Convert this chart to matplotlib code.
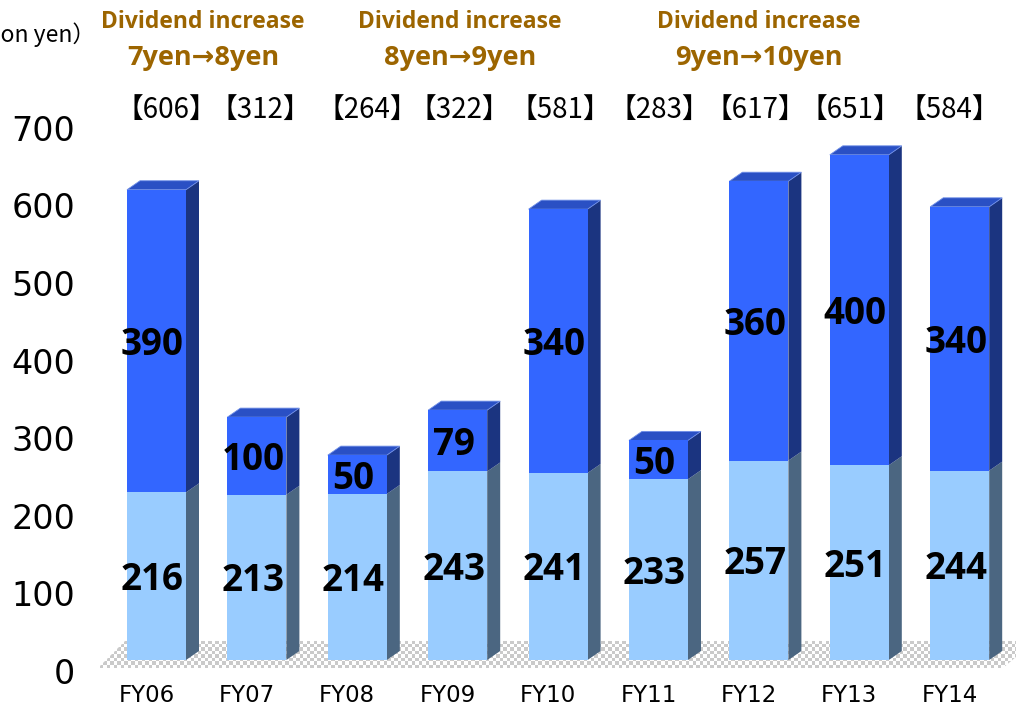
import numpy as np
import matplotlib
matplotlib.use("Agg")
import matplotlib.pyplot as plt
from matplotlib.patches import Polygon
from matplotlib.transforms import ScaledTranslation

# ---- data ----
categories = ["FY06", "FY07", "FY08", "FY09", "FY10", "FY11", "FY12", "FY13", "FY14"]
lower_vals = [216, 213, 214, 243, 241, 233, 257, 251, 244]
upper_vals = [390, 100, 50, 79, 340, 50, 360, 400, 340]
total_labels = ["606", "312", "264", "322", "581", "283", "617", "651", "584"]
ytick_vals = [0, 100, 200, 300, 400, 500, 600, 700]
headers = [("Dividend increase", "7yen\u21928yen"),
           ("Dividend increase", "8yen\u21929yen"),
           ("Dividend increase", "9yen\u219210yen")]
unit_label = "\uff08Billion yen\uff09"

# ---- layout / styles ----
W, H = 1016, 706
DPI = 100
header_x_px = [203, 460, 759]
total_dx_px = [9.5, 3, 10, 2, 2, 1, -4, -9, -10]   # offsets of bracket labels from bar centres
C_UP_FRONT = "#3366FF"
C_UP_TOP = "#2A50C4"
C_UP_SIDE = "#1B3480"
C_LO_FRONT = "#99CCFF"
C_LO_SIDE = "#4B6681"
C_HEAD = "#9C6500"
BOLD_FAM = ["Open Sans", "DejaVu Sans"]

fig = plt.figure(figsize=(W / DPI, H / DPI), dpi=DPI)
ax_left_px, ax_bottom_px = 88, 34
ax = fig.add_axes([ax_left_px / W, ax_bottom_px / H, 1 - ax_left_px / W, 1 - ax_bottom_px / H])

px_per_x = 100.4
px_per_y = 0.776
x0_px = 156.5
zero_above_axis = 12
ax.set_xlim((ax_left_px - x0_px) / px_per_x, (W - x0_px) / px_per_x)
ax.set_ylim(-zero_above_axis / px_per_y, (H - ax_bottom_px - zero_above_axis) / px_per_y)

for s in ax.spines.values():
    s.set_visible(False)

bw = 59 / px_per_x
ddx = 13 / px_per_x
ddy = 9 / px_per_y

x = np.arange(len(categories))

# ---- checkered floor ----
fl = [(-0.583, -10.3), (-0.314, 24.5), (8.75, 24.5), (8.43, -10.3)]
floor_poly = Polygon(fl, closed=True, facecolor="none", edgecolor="none")
ax.add_patch(floor_poly)
xmin, xmax = -0.6, 8.8
ymin, ymax = -10.3, 24.5
sq = 3.5
nx = int((xmax - xmin) * px_per_x / sq)
ny = int(round((ymax - ymin) * px_per_y / sq))
ii, jj = np.meshgrid(np.arange(nx), np.arange(ny))
checker = ((ii + jj) % 2).astype(float)
im = ax.imshow(checker, cmap=matplotlib.colors.ListedColormap(["#FFFFFF", "#CACACA"]),
               extent=(xmin, xmax, ymin, ymax), aspect="auto", interpolation="nearest",
               origin="lower", zorder=1)
im.set_clip_path(floor_poly)

# ---- bars ----
ax.bar(x, lower_vals, width=bw, color=C_LO_FRONT, zorder=3)
ax.bar(x, upper_vals, width=bw, bottom=lower_vals, color=C_UP_FRONT, zorder=3)

lab_off = ScaledTranslation(-4 / DPI, -4 / DPI, fig.dpi_scale_trans)
for i in range(len(categories)):
    xl = x[i] - bw / 2
    xr = x[i] + bw / 2
    lo = lower_vals[i]
    top = lower_vals[i] + upper_vals[i]
    ax.add_patch(Polygon([(xr, 0), (xr + ddx, ddy), (xr + ddx, lo + ddy), (xr, lo)],
                         closed=True, facecolor=C_LO_SIDE, edgecolor="none", zorder=2.5))
    ax.add_patch(Polygon([(xr, lo), (xr + ddx, lo + ddy), (xr + ddx, top + ddy), (xr, top)],
                         closed=True, facecolor=C_UP_SIDE, edgecolor="none", zorder=2.5))
    ax.add_patch(Polygon([(xl, top), (xl + ddx, top + ddy), (xr + ddx, top + ddy), (xr, top)],
                         closed=True, facecolor=C_UP_TOP, edgecolor="#6F8FE8", linewidth=0.6,
                         zorder=2.6))
    ax.text(x[i], lo / 2, str(lo), ha="center", va="center", fontsize=26.5,
            fontweight="bold", family=BOLD_FAM, color="black", zorder=5,
            transform=ax.transData + lab_off)
    ax.text(x[i], lo + upper_vals[i] / 2, str(upper_vals[i]), ha="center", va="center",
            fontsize=26.5, fontweight="bold", family=BOLD_FAM, color="black", zorder=5,
            transform=ax.transData + lab_off)
    ax.annotate("\u3010" + total_labels[i] + "\u3011", xy=(x[i], H - 110),
                xycoords=("data", "figure pixels"), xytext=(total_dx_px[i] * 0.72, 0),
                textcoords="offset points", ha="center", va="center",
                fontsize=20, family=["Noto Sans CJK JP", "DejaVu Sans"], color="black",
                annotation_clip=False)

# ---- axes ticks ----
ax.set_xticks(x)
ax.set_xticklabels(categories, fontsize=16.5, family="DejaVu Sans")
ax.tick_params(axis="x", length=0, pad=9)
xoff = ScaledTranslation(-10 / DPI, 0, fig.dpi_scale_trans)
for lab in ax.get_xticklabels():
    lab.set_transform(lab.get_transform() + xoff)
ax.set_yticks(ytick_vals)
ax.set_yticklabels([str(v) for v in ytick_vals], fontsize=24, family="DejaVu Sans")
ax.tick_params(axis="y", length=0, pad=9)
off = ScaledTranslation(0, -11 / DPI, fig.dpi_scale_trans)
for lab in ax.get_yticklabels():
    lab.set_transform(lab.get_transform() + off)

# ---- headers ----
for (l1, l2), hx in zip(headers, header_x_px):
    fig.text(hx / W, 1 - 22 / H, l1, ha="center", va="center", fontsize=16.5,
             fontweight="bold", family=BOLD_FAM, color=C_HEAD)
    fig.text(hx / W, 1 - 58 / H, l2, ha="center", va="center", fontsize=19.5,
             fontweight="bold", family=BOLD_FAM, color=C_HEAD)

fig.text(95 / W, 1 - 35 / H, unit_label, ha="right", va="center", fontsize=16.5,
         family=["Noto Sans CJK JP", "DejaVu Sans"], color="black")

fig.savefig("out.png", dpi=DPI)
